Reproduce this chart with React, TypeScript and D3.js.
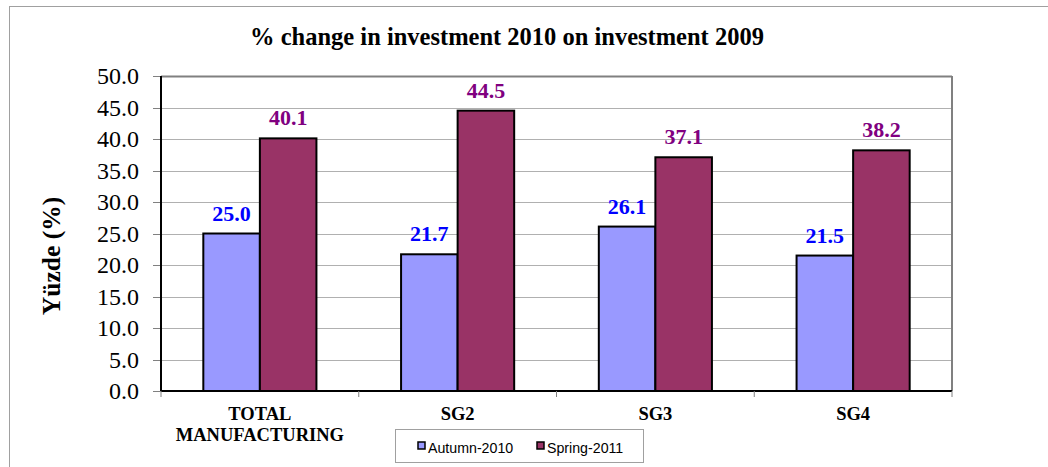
import React from "react";
import * as d3 from "d3";

const categories = ["TOTAL MANUFACTURING", "SG2", "SG3", "SG4"];
const categoryLines = [["TOTAL", "MANUFACTURING"], ["SG2"], ["SG3"], ["SG4"]];
const seriesNames = ["Autumn-2010", "Spring-2011"];
const autumn2010 = [25.0, 21.7, 26.1, 21.5];
const spring2011 = [40.1, 44.5, 37.1, 38.2];
const yTicks = [0, 5, 10, 15, 20, 25, 30, 35, 40, 45, 50];
const title = "% change in investment 2010 on investment 2009";
const yTitle = "Yüzde (%)";

const colors = ["#9999FF", "#993366"];
const labelColors = ["#0000FF", "#800080"];

export default function App() {
  const W = 1048, H = 467;
  const left = 161, right = 952, top = 76, bottom = 391;
  const x = d3.scaleBand<string>().domain(categories).range([left, right]).paddingInner(0).paddingOuter(0);
  const y = d3.scaleLinear().domain([0, 50]).range([bottom, top]);
  const bw = x.bandwidth();
  const barW = bw * 0.286;
  const series = [autumn2010, spring2011];
  const serif = "'Liberation Serif', 'Times New Roman', serif";
  const sans = "'Liberation Sans', Arial, sans-serif";
  const boundaries = d3.range(categories.length + 1).map((i) => left + i * bw);

  return (
    <svg width={W} height={H} style={{ position: "absolute", left: 0, top: 0, background: "#fff" }}>
      <rect x={9.5} y={6.5} width={1100} height={500} fill="#fff" stroke="#a0a0a0" strokeWidth={1} />
      <text x={507} y={45} textAnchor="middle" fontFamily={serif} fontWeight="bold" fontSize={24.5} fill="#000">{title}</text>
      {/* gridlines */}
      {yTicks.map((t) => (
        <line key={"g" + t} x1={left} x2={right} y1={Math.round(y(t)) + 0.5} y2={Math.round(y(t)) + 0.5} stroke="#b0b0b0" strokeWidth={1} />
      ))}
      {/* plot border top/right */}
      <line x1={left} x2={right} y1={top + 0.5} y2={top + 0.5} stroke="#808080" strokeWidth={2} />
      <line x1={right} x2={right} y1={top} y2={bottom} stroke="#808080" strokeWidth={2} />
      {/* y ticks */}
      {yTicks.map((t) => (
        <g key={"t" + t}>
          <line x1={153} x2={left} y1={Math.round(y(t)) + 0.5} y2={Math.round(y(t)) + 0.5} stroke="#808080" strokeWidth={1} />
          <text x={139} y={y(t) + 8} textAnchor="end" fontFamily={serif} fontSize={24} fill="#000">{t.toFixed(1)}</text>
        </g>
      ))}
      {/* bars */}
      {categories.map((c, i) => {
        const cx = (x(c) as number) + bw / 2;
        return series.map((s, j) => {
          const bx = cx - barW + j * barW;
          return (
            <rect key={c + j} x={bx} y={y(s[i])} width={barW} height={bottom - y(s[i])} fill={colors[j]} stroke="#000" strokeWidth={2} />
          );
        });
      })}
      {/* data labels */}
      {categories.map((c, i) => {
        const cx = (x(c) as number) + bw / 2;
        return series.map((s, j) => (
          <text key={"l" + c + j} x={cx - barW / 2 + j * barW} y={y(s[i]) - 13} textAnchor="middle" fontFamily={serif} fontWeight="bold" fontSize={22} fill={labelColors[j]}>{s[i].toFixed(1)}</text>
        ));
      })}
      {/* axes */}
      <line x1={left} x2={left} y1={top} y2={bottom} stroke="#000" strokeWidth={2} />
      <line x1={left} x2={right} y1={bottom} y2={bottom} stroke="#000" strokeWidth={2} />
      {boundaries.map((b, i) => (
        <line key={"b" + i} x1={b} x2={b} y1={bottom} y2={bottom + 6} stroke="#808080" strokeWidth={1} />
      ))}
      {/* category labels */}
      {categories.map((c, i) => {
        const cx = (x(c) as number) + bw / 2;
        return (
          <text key={"c" + c} x={cx} y={420} textAnchor="middle" fontFamily={serif} fontWeight="bold" fontSize={18.5} fill="#000">
            {categoryLines[i].map((ln, k) => (
              <tspan key={k} x={cx} dy={k === 0 ? 0 : 20.5}>{ln}</tspan>
            ))}
          </text>
        );
      })}
      {/* y title */}
      <text transform={`translate(60,256) rotate(-90)`} textAnchor="middle" fontFamily={serif} fontWeight="bold" fontSize={25.5} fill="#000">{yTitle}</text>
      {/* legend */}
      <rect x={395.5} y={429.5} width={248} height={33} fill="#fff" stroke="#a0a0a0" strokeWidth={1} />
      {seriesNames.map((n, j) => {
        const lx = j === 0 ? 418 : 537;
        return (
          <g key={n}>
            <rect x={lx} y={442} width={7} height={7} fill={colors[j]} stroke="#000" strokeWidth={1.5} />
            <text x={lx + 10} y={453} fontFamily={sans} fontSize={14.2} fill="#000">{n}</text>
          </g>
        );
      })}
    </svg>
  );
}
